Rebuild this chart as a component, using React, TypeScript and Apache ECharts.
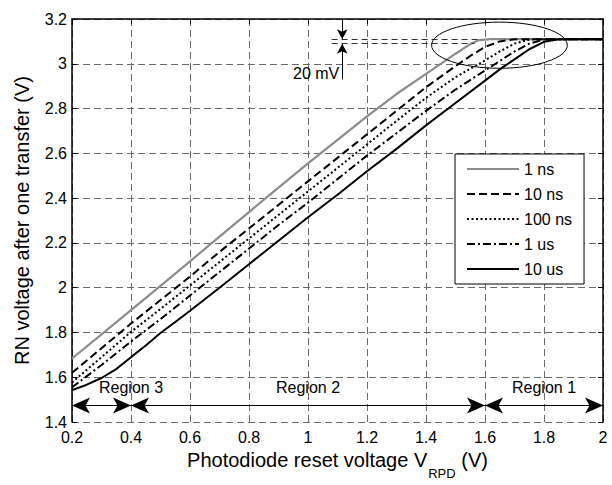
import React, { useEffect, useRef } from 'react';
import * as echarts from 'echarts';

const FONT = 'Liberation Sans, Arial, Helvetica, sans-serif';

const seriesNames = ['1 ns', '10 ns', '100 ns', '1 us', '10 us'];

const t1ns: [number, number][] = [
  [0.2, 1.684], [0.3, 1.792], [0.4, 1.9], [0.5, 2.008], [0.6, 2.118], [0.7, 2.228],
  [0.8, 2.338], [0.9, 2.447], [1.0, 2.555], [1.1, 2.66], [1.2, 2.765], [1.3, 2.865], [1.4, 2.955],
  [1.45, 3.0], [1.5, 3.045], [1.55, 3.088], [1.58, 3.106], [1.62, 3.11], [2.0, 3.11],
];
const t10ns: [number, number][] = [
  [0.2, 1.62], [0.3, 1.73], [0.4, 1.84], [0.5, 1.945], [0.6, 2.05], [0.7, 2.16], [0.8, 2.265],
  [0.9, 2.37], [1.0, 2.475], [1.1, 2.58], [1.2, 2.685], [1.3, 2.79], [1.4, 2.895], [1.5, 2.99],
  [1.55, 3.035], [1.6, 3.075], [1.65, 3.1], [1.7, 3.11], [2.0, 3.11],
];
const t100ns: [number, number][] = [
  [0.2, 1.577], [0.3, 1.69], [0.4, 1.803], [0.5, 1.905], [0.6, 2.01], [0.7, 2.115], [0.8, 2.22],
  [0.9, 2.325], [1.0, 2.43], [1.1, 2.535], [1.2, 2.64], [1.3, 2.745], [1.4, 2.848], [1.5, 2.94],
  [1.6, 3.015], [1.65, 3.055], [1.7, 3.09], [1.75, 3.108], [1.8, 3.11], [2.0, 3.11],
];
const t1us: [number, number][] = [
  [0.2, 1.555], [0.3, 1.655], [0.4, 1.76], [0.5, 1.86], [0.6, 1.965], [0.7, 2.07], [0.8, 2.175],
  [0.9, 2.28], [1.0, 2.38], [1.1, 2.485], [1.2, 2.59], [1.3, 2.69], [1.4, 2.79], [1.5, 2.885],
  [1.6, 2.97], [1.7, 3.055], [1.75, 3.09], [1.8, 3.108], [1.85, 3.11], [2.0, 3.11],
];
const t10us: [number, number][] = [
  [0.2, 1.543], [0.25, 1.567], [0.3, 1.597], [0.35, 1.637], [0.4, 1.69], [0.45, 1.742], [0.5, 1.798],
  [0.55, 1.847], [0.6, 1.897], [0.7, 2.0], [0.8, 2.105], [0.9, 2.21], [1.0, 2.315], [1.1, 2.415],
  [1.2, 2.52], [1.3, 2.62], [1.4, 2.725], [1.5, 2.825], [1.6, 2.925], [1.65, 2.975], [1.7, 3.02],
  [1.75, 3.065], [1.8, 3.098], [1.85, 3.11], [2.0, 3.11],
];

// Region annotations (x ranges) and label positions
const regionArrowY = 1.474;
const regionLabelY = 1.553;
const regionRanges: [number, number][] = [[0.2, 0.4], [0.4, 1.6], [1.6, 2.0]];
const regionLabels = ['Region 3', 'Region 2', 'Region 1'];
const regionLabelX = [0.4, 1.0, 1.8];

// 20 mV annotation
const mvX = 1.116;
const mvLevels = [3.11, 3.09];
const mvLineStart = 1.08;
const mvLineEnds = [1.59, 1.565];
const ellipseCenter: [number, number] = [1.649, 3.083];
const ellipseRadii: [number, number] = [0.23, 0.103];

const xMin = 0.2, xMax = 2.0, yMin = 1.4, yMax = 3.2, step = 0.2;

const fmt = (v: number) => String(parseFloat(v.toFixed(1)));

export default function App() {
  const ref = useRef<HTMLDivElement>(null);
  useEffect(() => {
    if (!ref.current) return;
    const chart = echarts.init(ref.current, undefined, { renderer: 'svg' });
    const gridDash = { type: [7, 4] as any, color: '#6a6a6a', width: 1 };
    const styles = [
      { color: '#8c8c8c', width: 2.2, type: 'solid' },
      { color: '#000', width: 2, type: [8, 4] },
      { color: '#000', width: 2, type: [2, 2.5] },
      { color: '#000', width: 2, type: [8, 3, 2, 3] },
      { color: '#000', width: 2, type: 'solid' },
    ];
    const datas = [t1ns, t10ns, t100ns, t1us, t10us];
    const lineSeries = datas.map((d, i) => ({
      name: seriesNames[i],
      type: 'line',
      data: d,
      symbol: 'none',
      showSymbol: false,
      smooth: false,
      lineStyle: styles[i],
      itemStyle: { color: styles[i].color },
      z: 3,
      silent: true,
    }));

    const option: any = {
      animation: false,
      backgroundColor: '#fff',
      textStyle: { fontFamily: FONT },
      grid: { left: 72, right: 9, top: 19, bottom: 54, containLabel: false },
      legend: {
        data: seriesNames,
        orient: 'vertical',
        left: 455,
        top: 154,
        itemWidth: 52,
        itemHeight: 14,
        itemGap: 9,
        padding: [7, 12, 7, 11],
        borderColor: '#000',
        borderWidth: 1,
        backgroundColor: '#fff',
        itemStyle: { opacity: 0 },
        textStyle: { fontSize: 16, color: '#000', fontFamily: FONT },
        selectedMode: false,
      },
      xAxis: [
        {
          type: 'value', min: xMin, max: xMax, interval: step, position: 'bottom',
          axisLine: { show: false }, axisTick: { show: false },
          axisLabel: { fontSize: 16, color: '#000', margin: 7, formatter: fmt, fontFamily: FONT },
          splitLine: { show: true, lineStyle: gridDash },
          name: '{a|Photodiode reset voltage V}{s|RPD}{a| (V)}',
          nameLocation: 'middle',
          nameGap: 22,
          nameTextStyle: {
            fontFamily: FONT,
            rich: {
              a: { fontSize: 20, color: '#000', fontFamily: FONT, lineHeight: 30, verticalAlign: 'top' },
              s: { fontSize: 13, color: '#000', fontFamily: FONT, lineHeight: 30, verticalAlign: 'bottom', padding: [0, 0, 0, 1] },
            },
          },
        },
        {
          type: 'value', min: xMin, max: xMax, interval: step, position: 'top',
          axisLine: { show: true, lineStyle: { color: '#000', width: 1.5 } },
          axisTick: { show: true, inside: true, length: 5, lineStyle: { color: '#000' } },
          axisLabel: { show: false }, splitLine: { show: false },
        },
      ],
      yAxis: [
        {
          type: 'value', min: yMin, max: yMax, interval: step, position: 'left',
          axisLine: { show: true, lineStyle: { color: '#000', width: 1.5 } },
          axisTick: { show: true, inside: true, length: 5, lineStyle: { color: '#000' } },
          axisLabel: { fontSize: 16, color: '#000', margin: 5, formatter: fmt, fontFamily: FONT },
          splitLine: { show: true, lineStyle: gridDash },
          name: 'RN voltage after one transfer (V)',
          nameLocation: 'middle',
          nameGap: 40,
          nameTextStyle: { fontSize: 20, color: '#000', fontFamily: FONT },
        },
        {
          type: 'value', min: yMin, max: yMax, interval: step, position: 'right',
          axisLine: { show: true, lineStyle: { color: '#000', width: 1.5 } },
          axisTick: { show: true, inside: true, length: 5, lineStyle: { color: '#000' } },
          axisLabel: { show: false }, splitLine: { show: false },
        },
      ],
      series: [
        ...lineSeries,
        {
          name: 'regions',
          type: 'line',
          data: [],
          silent: true,
          markLine: {
            silent: true,
            animation: false,
            symbol: ['arrow', 'arrow'],
            symbolSize: [12, 18],
            label: { show: false },
            lineStyle: { color: '#000', width: 1, type: 'solid' },
            emphasis: { disabled: true },
            data: regionRanges.map(([a, b]) => [
              { coord: [a, regionArrowY] },
              { coord: [b, regionArrowY] },
            ]),
          },
        },
        {
          name: 'mvArrows',
          type: 'line',
          data: [],
          silent: true,
          markLine: {
            silent: true,
            animation: false,
            symbol: ['none', 'arrow'],
            symbolSize: [8, 10],
            label: { show: false },
            lineStyle: { color: '#000', width: 1, type: 'solid' },
            emphasis: { disabled: true },
            data: [
              [{ coord: [mvX, yMax] }, { coord: [mvX, mvLevels[0]] }],
              [{ coord: [mvX, 2.93] }, { coord: [mvX, mvLevels[1]] }],
            ],
          },
        },
        {
          name: 'mvLevels',
          type: 'line',
          data: [],
          silent: true,
          markLine: {
            silent: true,
            animation: false,
            symbol: ['none', 'none'],
            label: { show: false },
            lineStyle: { color: '#333', width: 1, type: [6, 4] },
            emphasis: { disabled: true },
            data: mvLevels.map((lv, i) => [
              { coord: [mvLineStart, lv] },
              { coord: [mvLineEnds[i], lv] },
            ]),
          },
        },
      ],
    };
    chart.setOption(option);

    const px = (p: [number, number]) => chart.convertToPixel({ gridIndex: 0 }, p) as number[];
    const c = px(ellipseCenter);
    const cx2 = px([ellipseCenter[0] + ellipseRadii[0], ellipseCenter[1] + ellipseRadii[1]]);
    const graphics: any[] = [
      {
        type: 'ellipse',
        shape: { cx: c[0], cy: c[1], rx: Math.abs(cx2[0] - c[0]), ry: Math.abs(c[1] - cx2[1]) },
        style: { fill: 'none', stroke: '#000', lineWidth: 1 },
        z: 10,
        silent: true,
      },
    ];
    const mvText = px([mvX - 0.01, 2.955]);
    graphics.push({
      type: 'text',
      x: mvText[0], y: mvText[1],
      style: { text: '20 mV', fontSize: 16, fill: '#000', fontFamily: FONT, align: 'right', verticalAlign: 'middle' },
      z: 10, silent: true,
    });
    regionLabels.forEach((lab, i) => {
      const p = px([regionLabelX[i], regionLabelY]);
      graphics.push({
        type: 'text',
        x: p[0], y: p[1],
        style: { text: lab, fontSize: 16, fill: '#000', fontFamily: FONT, align: 'center', verticalAlign: 'middle' },
        z: 10, silent: true,
      });
    });
    chart.setOption({ graphic: graphics });

    return () => chart.dispose();
  }, []);
  return <div ref={ref} style={{ position: 'fixed', left: 0, top: 0, width: 612, height: 485 }} />;
}
